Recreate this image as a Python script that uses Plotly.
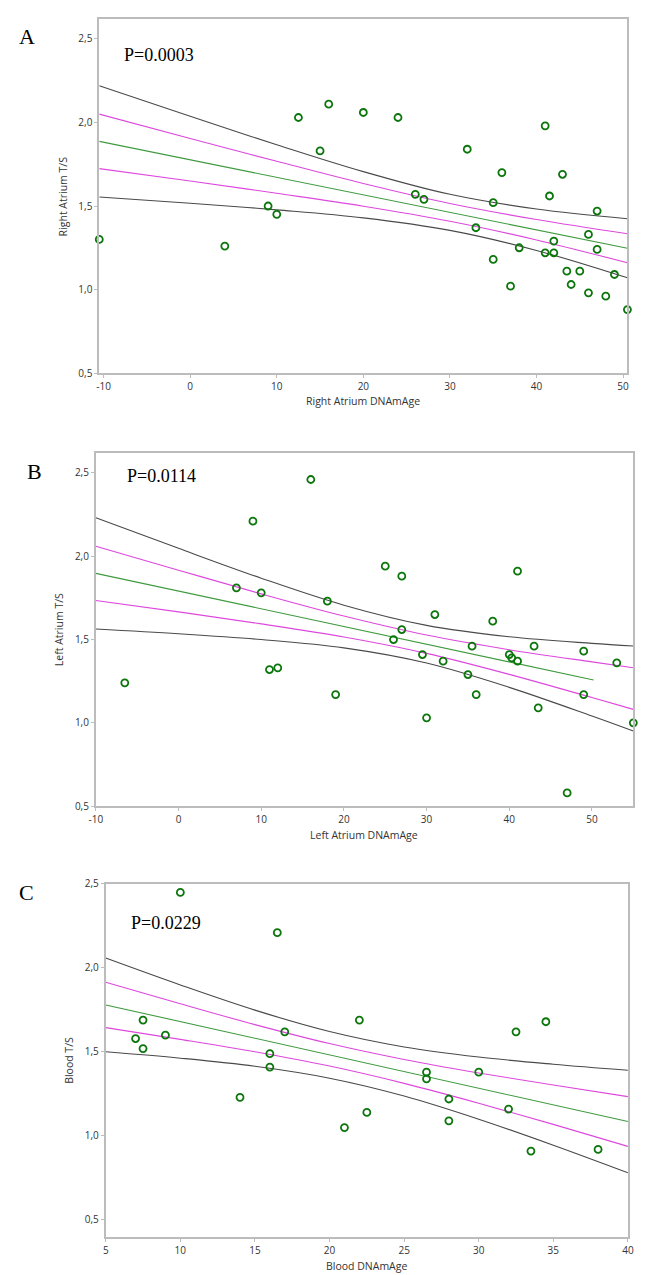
import plotly.graph_objects as go

W, H = 646, 1275

# ---- Panel A: Right Atrium ----
ra_age = [-10.5, 4, 9, 10, 12.5, 15, 16, 20, 24, 26, 27, 32, 33, 35, 35, 36, 37, 38,
          41, 41, 41.5, 42, 42, 43, 43.5, 44, 45, 46, 46, 47, 47, 48, 49, 50.5]
ra_ts = [1.30, 1.26, 1.50, 1.45, 2.03, 1.83, 2.11, 2.06, 2.03, 1.57, 1.54, 1.84, 1.37, 1.52, 1.18, 1.70, 1.02, 1.25,
         1.98, 1.22, 1.56, 1.29, 1.22, 1.69, 1.11, 1.03, 1.11, 1.33, 0.98, 1.47, 1.24, 0.96, 1.09, 0.88]
ra_fit_x = [-10.5, 50.5]
ra_fit_y = [1.887, 1.247]
ra_band_x = [-10.5, 0, 10, 20, 30, 40, 50.5]
ra_ci_hi = [2.220, 2.037, 1.867, 1.706, 1.570, 1.482, 1.424]
ra_se_hi = [2.050, 1.904, 1.768, 1.635, 1.515, 1.419, 1.334]
ra_se_lo = [1.724, 1.650, 1.576, 1.499, 1.409, 1.297, 1.160]
ra_ci_lo = [1.554, 1.517, 1.477, 1.429, 1.354, 1.234, 1.070]

# ---- Panel B: Left Atrium ----
la_age = [-6.5, 7, 9, 10, 11, 12, 16, 18, 19, 25, 26, 27, 27, 29.5, 30, 31, 32, 35, 35.5, 36,
          38, 40, 40.3, 41, 41, 43, 43.5, 47, 49, 49, 53, 55]
la_ts = [1.24, 1.81, 2.21, 1.78, 1.32, 1.33, 2.46, 1.73, 1.17, 1.94, 1.50, 1.88, 1.56, 1.41, 1.03, 1.65, 1.37, 1.29, 1.46, 1.17,
         1.61, 1.41, 1.39, 1.37, 1.91, 1.46, 1.09, 0.58, 1.43, 1.17, 1.36, 1.00]
la_fit_x = [-10, 50.2]
la_fit_y = [1.897, 1.257]
la_band_x = [-10, 0, 10, 20, 30, 40, 50, 55]
la_ci_hi = [2.231, 2.047, 1.868, 1.706, 1.585, 1.517, 1.477, 1.461]
la_se_hi = [2.060, 1.916, 1.774, 1.641, 1.527, 1.439, 1.366, 1.331]
la_se_lo = [1.734, 1.666, 1.594, 1.515, 1.417, 1.291, 1.152, 1.081]
la_ci_lo = [1.563, 1.535, 1.500, 1.450, 1.359, 1.213, 1.041, 0.951]

# ---- Panel C: Blood ----
bl_age = [7, 7.5, 7.5, 9, 10, 14, 16, 16, 16.5, 17, 21, 22, 22.5, 26.5, 26.5, 28, 28, 30, 32, 32.5, 33.5, 34.5, 38]
bl_ts = [1.58, 1.69, 1.52, 1.60, 2.45, 1.23, 1.49, 1.41, 2.21, 1.62, 1.05, 1.69, 1.14, 1.38, 1.34, 1.22, 1.09, 1.38, 1.16, 1.62, 0.91, 1.68, 0.92]
bl_fit_x = [5, 40]
bl_fit_y = [1.780, 1.086]
bl_band_x = [5, 10, 15, 20, 25, 30, 35, 40]
bl_ci_hi = [2.059, 1.899, 1.749, 1.622, 1.530, 1.470, 1.427, 1.391]
bl_se_hi = [1.915, 1.787, 1.663, 1.550, 1.455, 1.375, 1.303, 1.234]
bl_se_lo = [1.645, 1.575, 1.501, 1.416, 1.313, 1.195, 1.069, 0.938]
bl_ci_lo = [1.501, 1.463, 1.415, 1.344, 1.238, 1.100, 0.945, 0.781]

y_ticks = [0.5, 1.0, 1.5, 2.0, 2.5]
ra_xticks = [-10, 0, 10, 20, 30, 40, 50]
la_xticks = [-10, 0, 10, 20, 30, 40, 50]
bl_xticks = [5, 10, 15, 20, 25, 30, 35, 40]

panels = [
    dict(x=ra_age, y=ra_ts, fx=ra_fit_x, fy=ra_fit_y, bx=ra_band_x,
         bands=[ra_ci_hi, ra_se_hi, ra_se_lo, ra_ci_lo], ax='x', ay='y'),
    dict(x=la_age, y=la_ts, fx=la_fit_x, fy=la_fit_y, bx=la_band_x,
         bands=[la_ci_hi, la_se_hi, la_se_lo, la_ci_lo], ax='x2', ay='y2'),
    dict(x=bl_age, y=bl_ts, fx=bl_fit_x, fy=bl_fit_y, bx=bl_band_x,
         bands=[bl_ci_hi, bl_se_hi, bl_se_lo, bl_ci_lo], ax='x3', ay='y3'),
]

band_colors = ['#4a4a4a', '#dd48dd', '#dd48dd', '#4a4a4a']

fig = go.Figure()
for p in panels:
    for vals, col in zip(p['bands'], band_colors):
        fig.add_trace(go.Scatter(x=p['bx'], y=vals, mode='lines', line=dict(color=col, width=1.1, shape='spline'),
                                 xaxis=p['ax'], yaxis=p['ay'], hoverinfo='skip'))
    fig.add_trace(go.Scatter(x=p['fx'], y=p['fy'], mode='lines', line=dict(color='#3f9a3f', width=1.1),
                             xaxis=p['ax'], yaxis=p['ay'], hoverinfo='skip'))
    # open green circles, drawn whole even on the frame
    fig.add_trace(go.Scatter(x=p['x'], y=p['y'], mode='markers', cliponaxis=False,
                             marker=dict(symbol='circle-open', size=7, color='#0b760b', line=dict(width=1.8)),
                             xaxis=p['ax'], yaxis=p['ay']))


def px(v):
    return v / W


def py(v):
    return 1 - v / H


axis_common = dict(showline=True, linecolor='#bcbcbc', linewidth=1.8, mirror=True, ticks='outside', ticklen=3,
                   tickcolor='#bcbcbc', showgrid=False, zeroline=False,
                   tickfont=dict(family='Open Sans', size=10, color='#333333'))


def yax(rng, dom, anchor):
    return dict(axis_common, range=rng, domain=dom, anchor=anchor, tickvals=y_ticks, tickformat='.1f')


def xax(rng, dom, anchor, ticks):
    return dict(axis_common, range=rng, domain=dom, anchor=anchor, tickvals=ticks,
                ticktext=[str(t) for t in ticks])


fig.update_layout(
    width=W, height=H,
    margin=dict(l=0, r=0, t=0, b=0),
    paper_bgcolor='white', plot_bgcolor='white',
    showlegend=False,
    separators=', ',
    xaxis=xax([-10.5, 50.5], [px(86), px(625)], 'y', ra_xticks),
    yaxis=yax([0.5, 2.62], [py(362), py(4)], 'x'),
    xaxis2=xax([-10, 55], [px(82.5), px(631)], 'y2', la_xticks),
    yaxis2=yax([0.5, 2.62], [py(800), py(442.7)], 'x2'),
    xaxis3=xax([5, 40], [px(92.6), px(625.5)], 'y3', bl_xticks),
    yaxis3=yax([0.396, 2.502], [py(1236), py(878.3)], 'x3'),
)

title_font = dict(family='Open Sans', size=10.5, color='#333333')
letter_font = dict(family='Liberation Serif', size=22, color='black')
pval_font = dict(family='Liberation Serif', size=18, color='black')

texts = [
    # (text, x px, y px, font, angle)
    ('A', 12, 22, letter_font, 0),
    ('B', 19.5, 462, letter_font, 0),
    ('C', 12, 887, letter_font, 0),
    ('P=0.0003', 146.5, 40, pval_font, 0),
    ('P=0.0114', 149, 465.7, pval_font, 0),
    ('P=0.0229', 154.5, 918.3, pval_font, 0),
    ('Right Atrium DNAmAge', 355.5, 390.7, title_font, 0),
    ('Left Atrium DNAmAge', 356.5, 829, title_font, 0),
    ('Blood DNAmAge', 358.6, 1265, title_font, 0),
    ('Right Atrium T/S', 49.4, 183, title_font, -90),
    ('Left Atrium T/S', 44.4, 621.5, title_font, -90),
    ('Blood T/S', 55.6, 1057, title_font, -90),
]
for t, x, y, f, ang in texts:
    fig.add_annotation(text=t, x=px(x), y=py(y), xref='paper', yref='paper', showarrow=False,
                       xanchor='center', yanchor='middle', font=f, textangle=ang)

fig.write_html('out.html')
